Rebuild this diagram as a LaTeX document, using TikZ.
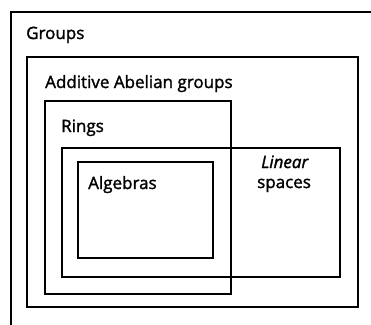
\documentclass[tikz,border=0pt]{standalone}
\usepackage{fontspec}
\setmainfont{Open Sans}[BoldFont={Open Sans}, BoldFeatures={FakeBold=1.6}, BoldItalicFont={Open Sans Italic}, BoldItalicFeatures={FakeBold=1.6}]
\begin{document}
\begin{tikzpicture}[x=1pt,y=-1pt,
  setbox/.style={draw=black, line width=1.6pt, fill=none, inner sep=0pt, outer sep=0pt},
  lbl/.style={anchor=base west, inner sep=0pt, font=\fontsize{17}{19}\selectfont\bfseries}]
\useasboundingbox (0,0) rectangle (371,324);
% boxes
\draw[setbox] (11,340) -- (11,12) -- (380,12);
\node[setbox, minimum width=331pt, minimum height=250pt, anchor=north west] (add) at (27,57) {};
\node[setbox, minimum width=186pt, minimum height=193pt, anchor=north west] (rings) at (45,101) {};
\node[setbox, minimum width=278pt, minimum height=129pt, anchor=north west] (lin) at (62,148) {};
\node[setbox, minimum width=135pt, minimum height=96pt, anchor=north west] (alg) at (78,162) {};
% labels
\node[lbl] (tg) at (26,39) {Groups};
\node[lbl] (ta) at (45,88) {Additive Abelian groups};
\node[lbl] (tr) at (61,132) {Rings};
\node[lbl] (tal) at (88,189) {Algebras};
\node[lbl, font=\fontsize{17}{19}\selectfont\bfseries\itshape] (tl) at (261,168) {Linear};
\node[lbl] (ts) at (257,188) {spaces};
\end{tikzpicture}
\end{document}
